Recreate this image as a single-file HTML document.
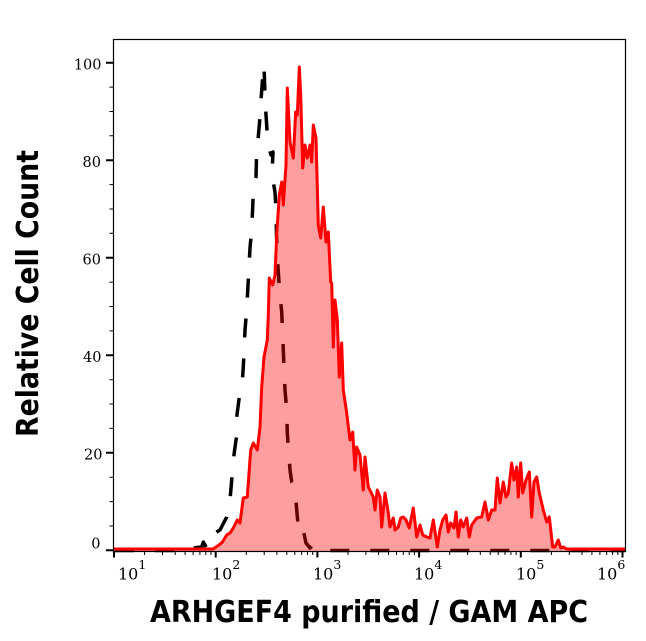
<!DOCTYPE html>
<html>
<head>
<meta charset="utf-8">
<style>
html,body{margin:0;padding:0;background:#fff;}
svg{display:block;}
</style>
</head>
<body>
<svg width="646" height="641" viewBox="0 0 646 641" xmlns="http://www.w3.org/2000/svg">
<rect x="0" y="0" width="646" height="641" fill="#fff"/>
<polyline fill="none" stroke="#000" stroke-width="3.5" stroke-dasharray="19 21" stroke-dashoffset="38" stroke-linejoin="round" points="113,550.5 190,550.5 192,548 201.7,547 203.3,542 206.7,548 211.7,545 215,533 220,530 226.7,517 230,500 231.7,480 233.3,460 236,440 238.3,430 236.7,417 239.3,397 241.7,390 243.3,367 245,330 246.7,310 250,248 251.7,230 252.7,207 253.3,190 256,177 256.7,150 258,140 260,117 261,100 262.5,80 264,65 265,95 266,115 267,130 269,148 271,155 273,152 272,175 275,192 276,210 276.5,235 277,250 278.3,272 279.5,290 281.7,312 283.3,350 285,390 286.7,410 287.3,433 290,470 291.7,482 295,487 296.7,510 298.3,527 301.7,523 306,543 310,548 313.3,545 316.7,548 320,550.5 625,550.5"/>
<polygon fill="rgba(255,0,0,0.38)" stroke="none" points="113,551 113,549 213,549 216,547 219,545 222.7,541.7 226.7,535 230,533 233.3,528 237.3,520 240,523 243.3,498 247.3,497 250.7,450 253.3,443 257.3,450 260,427 261.7,387 264,357 267.3,340 268.3,315 269.3,278 272.7,285 275,275 276.7,235 279.3,195 281.7,182 283.3,205 286,165 287.3,88 290,142 293.3,158 295.7,112 297.3,115 299.3,67 300.7,95 302.7,168 305,145 307.3,158 310,145 311.7,162 313.3,125 316,138 318.3,225 320.7,238 323.3,207 326,242 328.3,232 330.7,282 331.7,283 333.3,347 335,300 337.3,320 339.3,377 341.7,343 343.3,390 346.7,413 350,440 352.7,432 355,470 356.7,447 360,455 363.3,490 365,457 368.3,487 373.3,497 375,510 377.3,490 380,497 381.7,527 385,493 388.3,513 390,527 393.3,518 395,530 398.3,527 400.7,518 403.3,517 406,520 409.3,528 413.3,508 416.7,537 420,525 422.7,535 426.7,537 430,538 433.3,520 437.3,547 440,530 442.7,520 446,515 448.3,532 450.7,523 454,528 456,512 458.3,537 460.7,520 463.3,527 466.7,518 469.3,537 471.7,525 476.7,518 481.7,517 485,502 488.3,520 491.7,510 495,510 497.3,478 500,503 503.3,482 506,497 508.3,493 511.7,463 514,480 516.7,467 518.3,497 520.7,463 522.7,493 526,480 529.3,472 531.7,517 534,482 536.7,477 539.3,493 543.3,510 546.7,522 549.3,517 552.7,547 555,547 558.3,540 560.7,548 563.3,547 566.7,549 625,549 625,551"/>
<polyline fill="none" stroke="#ff0000" stroke-width="3" stroke-linejoin="round" points="113,549 213,549 216,547 219,545 222.7,541.7 226.7,535 230,533 233.3,528 237.3,520 240,523 243.3,498 247.3,497 250.7,450 253.3,443 257.3,450 260,427 261.7,387 264,357 267.3,340 268.3,315 269.3,278 272.7,285 275,275 276.7,235 279.3,195 281.7,182 283.3,205 286,165 287.3,88 290,142 293.3,158 295.7,112 297.3,115 299.3,67 300.7,95 302.7,168 305,145 307.3,158 310,145 311.7,162 313.3,125 316,138 318.3,225 320.7,238 323.3,207 326,242 328.3,232 330.7,282 331.7,283 333.3,347 335,300 337.3,320 339.3,377 341.7,343 343.3,390 346.7,413 350,440 352.7,432 355,470 356.7,447 360,455 363.3,490 365,457 368.3,487 373.3,497 375,510 377.3,490 380,497 381.7,527 385,493 388.3,513 390,527 393.3,518 395,530 398.3,527 400.7,518 403.3,517 406,520 409.3,528 413.3,508 416.7,537 420,525 422.7,535 426.7,537 430,538 433.3,520 437.3,547 440,530 442.7,520 446,515 448.3,532 450.7,523 454,528 456,512 458.3,537 460.7,520 463.3,527 466.7,518 469.3,537 471.7,525 476.7,518 481.7,517 485,502 488.3,520 491.7,510 495,510 497.3,478 500,503 503.3,482 506,497 508.3,493 511.7,463 514,480 516.7,467 518.3,497 520.7,463 522.7,493 526,480 529.3,472 531.7,517 534,482 536.7,477 539.3,493 543.3,510 546.7,522 549.3,517 552.7,547 555,547 558.3,540 560.7,548 563.3,547 566.7,549 625,549"/>
<rect x="113.5" y="39.5" width="512" height="512" fill="none" stroke="#000" stroke-width="1.2"/>
<path stroke="#000" stroke-width="2" fill="none" d="M106 62.7H113.5M106 160.2H113.5M106 257.7H113.5M106 355.3H113.5M106 452.8H113.5M106 550.3H113.5"/>
<path stroke="#000" stroke-width="1" fill="none" d="M109.5 87.1H113.5M109.5 111.5H113.5M109.5 135.8H113.5M109.5 184.6H113.5M109.5 209H113.5M109.5 233.3H113.5M109.5 282.1H113.5M109.5 306.5H113.5M109.5 330.9H113.5M109.5 379.7H113.5M109.5 404H113.5M109.5 428.4H113.5M109.5 477.2H113.5M109.5 501.6H113.5M109.5 526H113.5"/>
<path stroke="#000" stroke-width="2" fill="none" d="M114 551.5V557.5M215.7 551.5V557.5M317.4 551.5V557.5M419.1 551.5V557.5M520.8 551.5V557.5M622.5 551.5V557.5"/>
<path stroke="#000" stroke-width="1" fill="none" d="M144.6 551.5V555M162.5 551.5V555M175.2 551.5V555M185.1 551.5V555M193.1 551.5V555M199.9 551.5V555M205.8 551.5V555M211 551.5V555M246.3 551.5V555M264.2 551.5V555M276.9 551.5V555M286.8 551.5V555M294.8 551.5V555M301.6 551.5V555M307.5 551.5V555M312.7 551.5V555M348 551.5V555M365.9 551.5V555M378.6 551.5V555M388.5 551.5V555M396.5 551.5V555M403.3 551.5V555M409.2 551.5V555M414.4 551.5V555M449.7 551.5V555M467.6 551.5V555M480.3 551.5V555M490.2 551.5V555M498.2 551.5V555M505 551.5V555M510.9 551.5V555M516.1 551.5V555M551.4 551.5V555M569.3 551.5V555M582 551.5V555M591.9 551.5V555M599.9 551.5V555M606.7 551.5V555M612.6 551.5V555M617.8 551.5V555"/>
<g font-family="'DejaVu Serif', 'Liberation Serif', serif" font-size="14.5" fill="#000" text-anchor="end">
<text x="101.5" y="69.5">100</text>
<text x="101" y="167.2">80</text>
<text x="101" y="264.3">60</text>
<text x="101.5" y="362">40</text>
<text x="102.5" y="459.5">20</text>
<text x="100.5" y="548.5">0</text>
</g>
<g font-family="'DejaVu Serif', 'Liberation Serif', serif" fill="#000">
<text x="118" y="579.5" font-size="16">10<tspan dy="-10.5" font-size="12.5">1</tspan></text>
<text x="212" y="579.5" font-size="16">10<tspan dy="-10.5" font-size="12.5">2</tspan></text>
<text x="313" y="579.5" font-size="16">10<tspan dy="-10.5" font-size="12.5">3</tspan></text>
<text x="414" y="579.5" font-size="16">10<tspan dy="-10.5" font-size="12.5">4</tspan></text>
<text x="516" y="579.5" font-size="16">10<tspan dy="-10.5" font-size="12.5">5</tspan></text>
<text x="597" y="579.5" font-size="16">10<tspan dy="-10.5" font-size="12.5">6</tspan></text>
</g>
<g transform="translate(150,622) scale(1,1.12)">
<text x="0" y="0" font-family="'DejaVu Sans', 'Liberation Sans', sans-serif" font-weight="bold" font-size="27" textLength="438" lengthAdjust="spacingAndGlyphs" fill="#000">ARHGEF4 purified / GAM APC</text>
</g>
<g transform="translate(38,437) rotate(-90) scale(1,1.12)">
<text x="0" y="0" font-family="'DejaVu Sans', 'Liberation Sans', sans-serif" font-weight="bold" font-size="27" textLength="287" lengthAdjust="spacingAndGlyphs" fill="#000">Relative Cell Count</text>
</g>
</svg>
</body>
</html>
